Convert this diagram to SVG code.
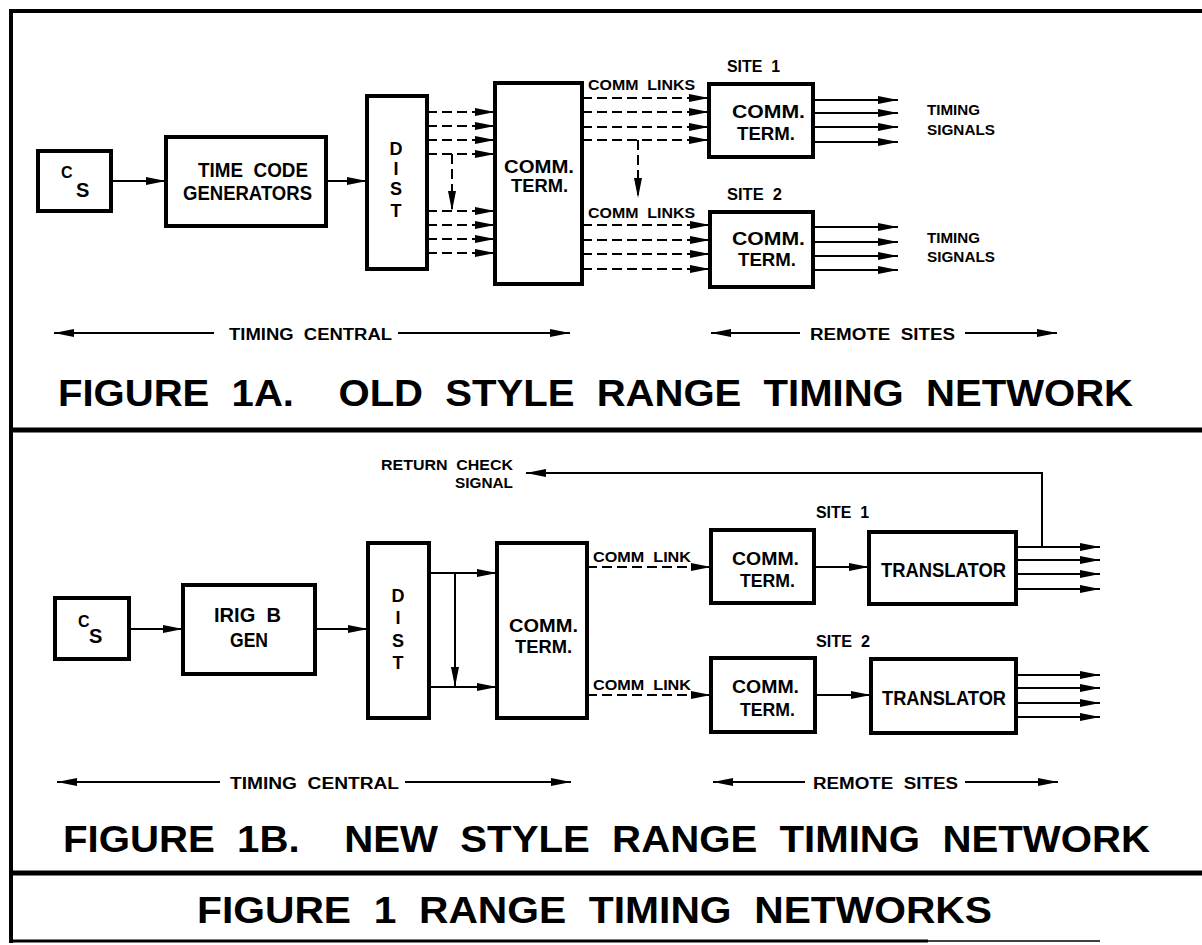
<svg xmlns="http://www.w3.org/2000/svg" width="1202" height="945" viewBox="0 0 1202 945">
<style>
.bg{fill:#fff}
.frame{stroke:#000;stroke-width:4;fill:none}
.box{fill:#fff;stroke:#000;stroke-width:4}
.ln{stroke:#000;stroke-width:2;fill:none}
.ah{marker-end:url(#arr)}
.dash{stroke-dasharray:10 5}
.t{font-family:"Liberation Sans",Arial,sans-serif;font-weight:bold;fill:#000;white-space:pre}
.s14{font-size:14px}
.s16{font-size:16px}
.s18{font-size:18px}
.s19{font-size:19px}
.s20{font-size:20px}
.title{font-family:"Liberation Sans",Arial,sans-serif;font-weight:bold;font-size:36px;fill:#000;white-space:pre}
.m{text-anchor:middle}
</style>
<defs>
<marker id="arr" viewBox="-22 -5 24 10" refX="0" refY="0" markerWidth="24" markerHeight="10" markerUnits="userSpaceOnUse" orient="auto">
<path d="M-20,-4 L0,0 L-20,4 Z" fill="#000"/>
</marker>
</defs>
<rect class="bg" x="0" y="0" width="1202" height="945"/>
<g id="frame">
<line class="frame" x1="11" y1="11" x2="1202" y2="11"/>
<line class="frame" x1="11" y1="9" x2="11" y2="943"/>
<line class="frame" x1="11" y1="430" x2="1202" y2="430" style="stroke-width:5"/>
<line class="frame" x1="11" y1="873" x2="1202" y2="873" style="stroke-width:5"/>
<line class="frame" x1="11" y1="941" x2="928" y2="941" style="stroke-width:3"/>
<line class="frame" x1="928" y1="941" x2="1100" y2="941" style="stroke-width:1.5"/>
</g>

<g id="connectors">
<line class="ln ah" x1="111" y1="181" x2="166" y2="181"/>
<line class="ln ah" x1="326" y1="181" x2="367" y2="181"/>
<line class="ln dash ah" x1="427" y1="112" x2="495" y2="112"/>
<line class="ln dash ah" x1="427" y1="126" x2="495" y2="126"/>
<line class="ln dash ah" x1="427" y1="140" x2="495" y2="140"/>
<line class="ln dash ah" x1="427" y1="154" x2="495" y2="154"/>
<line class="ln dash ah" x1="427" y1="211" x2="495" y2="211"/>
<line class="ln dash ah" x1="427" y1="225" x2="495" y2="225"/>
<line class="ln dash ah" x1="427" y1="239" x2="495" y2="239"/>
<line class="ln dash ah" x1="427" y1="253" x2="495" y2="253"/>
<line class="ln dash ah" x1="452" y1="154" x2="452" y2="211"/>
<line class="ln dash ah" x1="582" y1="98" x2="709" y2="98"/>
<line class="ln dash ah" x1="582" y1="112" x2="709" y2="112"/>
<line class="ln dash ah" x1="582" y1="127" x2="709" y2="127"/>
<line class="ln dash ah" x1="582" y1="140" x2="709" y2="140"/>
<line class="ln dash ah" x1="582" y1="225" x2="710" y2="225"/>
<line class="ln dash ah" x1="582" y1="240" x2="710" y2="240"/>
<line class="ln dash ah" x1="582" y1="254" x2="710" y2="254"/>
<line class="ln dash ah" x1="582" y1="269" x2="710" y2="269"/>
<line class="ln dash ah" x1="638" y1="140" x2="638" y2="198"/>
<line class="ln ah" x1="813" y1="100" x2="898" y2="100"/>
<line class="ln ah" x1="813" y1="113" x2="898" y2="113"/>
<line class="ln ah" x1="813" y1="127" x2="898" y2="127"/>
<line class="ln ah" x1="813" y1="142" x2="898" y2="142"/>
<line class="ln ah" x1="813" y1="227" x2="898" y2="227"/>
<line class="ln ah" x1="813" y1="242" x2="898" y2="242"/>
<line class="ln ah" x1="813" y1="256" x2="898" y2="256"/>
<line class="ln ah" x1="813" y1="270" x2="898" y2="270"/>
<line class="ln ah" x1="214" y1="333" x2="54" y2="333"/>
<line class="ln ah" x1="398" y1="333" x2="570" y2="333"/>
<line class="ln ah" x1="800" y1="333" x2="711" y2="333"/>
<line class="ln ah" x1="965" y1="333" x2="1057" y2="333"/>
<line class="ln ah" x1="129" y1="629" x2="183" y2="629"/>
<line class="ln ah" x1="315" y1="629" x2="368" y2="629"/>
<line class="ln ah" x1="429" y1="573" x2="497" y2="573"/>
<line class="ln ah" x1="429" y1="687" x2="497" y2="687"/>
<line class="ln ah" x1="455" y1="573" x2="455" y2="687"/>
<line class="ln dash ah" x1="587" y1="567" x2="711" y2="567"/>
<line class="ln dash ah" x1="587" y1="695" x2="711" y2="695"/>
<line class="ln ah" x1="814" y1="567" x2="869" y2="567"/>
<line class="ln ah" x1="815" y1="695" x2="871" y2="695"/>
<line class="ln ah" x1="1016" y1="547" x2="1100" y2="547"/>
<line class="ln ah" x1="1016" y1="560" x2="1100" y2="560"/>
<line class="ln ah" x1="1016" y1="574" x2="1100" y2="574"/>
<line class="ln ah" x1="1016" y1="589" x2="1100" y2="589"/>
<line class="ln ah" x1="1016" y1="675" x2="1100" y2="675"/>
<line class="ln ah" x1="1016" y1="688" x2="1100" y2="688"/>
<line class="ln ah" x1="1016" y1="703" x2="1100" y2="703"/>
<line class="ln ah" x1="1016" y1="717" x2="1100" y2="717"/>
<polyline class="ln ah" points="1042,547 1042,473 526,473"/>
<line class="ln ah" x1="220" y1="782" x2="57" y2="782"/>
<line class="ln ah" x1="405" y1="782" x2="571" y2="782"/>
<line class="ln ah" x1="805" y1="782" x2="713" y2="782"/>
<line class="ln ah" x1="965" y1="782" x2="1058" y2="782"/>
</g>

<g id="a_cs">
<rect class="box" x="38" y="151" width="73" height="60"/>
<text class="t" x="61" y="178" style="font-size:16px">C</text>
<text class="t s20" x="76" y="197">S</text>
</g>
<g id="a_tcg">
<rect class="box" x="166" y="137" width="160" height="89"/>
<text class="t s20" x="198" y="177" textLength="110" lengthAdjust="spacingAndGlyphs">TIME  CODE</text>
<text class="t s20" x="183" y="200" textLength="129" lengthAdjust="spacingAndGlyphs">GENERATORS</text>
</g>
<g id="a_dist">
<rect class="box" x="367" y="96" width="60" height="173"/>
<text class="t s18 m" x="396" y="155">D</text>
<text class="t s18 m" x="396" y="175">I</text>
<text class="t s18 m" x="396" y="195">S</text>
<text class="t s18 m" x="396" y="217">T</text>
</g>
<g id="a_comm">
<rect class="box" x="495" y="83" width="87" height="201"/>
<text class="t s19" x="504" y="173" textLength="70" lengthAdjust="spacingAndGlyphs">COMM.</text>
<text class="t s19" x="511" y="192" textLength="57" lengthAdjust="spacingAndGlyphs">TERM.</text>
</g>
<g id="a_site1">
<text class="t s16" x="727" y="72" textLength="53" lengthAdjust="spacingAndGlyphs">SITE  1</text>
<rect class="box" x="709" y="84" width="104" height="73"/>
<text class="t s19" x="732" y="118" textLength="73" lengthAdjust="spacingAndGlyphs">COMM.</text>
<text class="t s19" x="737" y="140" textLength="58" lengthAdjust="spacingAndGlyphs">TERM.</text>
</g>
<g id="a_site2">
<text class="t s16" x="727" y="200" textLength="55" lengthAdjust="spacingAndGlyphs">SITE  2</text>
<rect class="box" x="710" y="212" width="103" height="75"/>
<text class="t s19" x="732" y="245" textLength="73" lengthAdjust="spacingAndGlyphs">COMM.</text>
<text class="t s19" x="738" y="266" textLength="58" lengthAdjust="spacingAndGlyphs">TERM.</text>
</g>
<g id="a_labels">
<text class="t s14" x="588" y="90" textLength="107" lengthAdjust="spacingAndGlyphs">COMM  LINKS</text>
<text class="t s14" x="588" y="218" textLength="107" lengthAdjust="spacingAndGlyphs">COMM  LINKS</text>
<text class="t s14" x="927" y="115" textLength="53" lengthAdjust="spacingAndGlyphs">TIMING</text>
<text class="t s14" x="927" y="135" textLength="68" lengthAdjust="spacingAndGlyphs">SIGNALS</text>
<text class="t s14" x="927" y="243" textLength="53" lengthAdjust="spacingAndGlyphs">TIMING</text>
<text class="t s14" x="927" y="262" textLength="68" lengthAdjust="spacingAndGlyphs">SIGNALS</text>
<text class="t s16" x="229" y="340" textLength="163" lengthAdjust="spacingAndGlyphs">TIMING  CENTRAL</text>
<text class="t s16" x="810" y="340" textLength="145" lengthAdjust="spacingAndGlyphs">REMOTE  SITES</text>
<text class="title" x="58" y="406" textLength="1075" lengthAdjust="spacingAndGlyphs">FIGURE  1A.    OLD  STYLE  RANGE  TIMING  NETWORK</text>
</g>

<g id="b_cs">
<rect class="box" x="55" y="598" width="74" height="61"/>
<text class="t" x="78" y="627" style="font-size:16px">C</text>
<text class="t s20" x="89" y="643">S</text>
</g>
<g id="b_irig">
<rect class="box" x="183" y="585" width="132" height="89"/>
<text class="t s20" x="214" y="622" textLength="67" lengthAdjust="spacingAndGlyphs">IRIG  B</text>
<text class="t s20" x="230" y="647" textLength="38" lengthAdjust="spacingAndGlyphs">GEN</text>
</g>
<g id="b_dist">
<rect class="box" x="368" y="543" width="61" height="175"/>
<text class="t s18 m" x="398" y="602">D</text>
<text class="t s18 m" x="398" y="624">I</text>
<text class="t s18 m" x="398" y="647">S</text>
<text class="t s18 m" x="398" y="669">T</text>
</g>
<g id="b_comm">
<rect class="box" x="497" y="543" width="90" height="175"/>
<text class="t s19" x="509" y="632" textLength="69" lengthAdjust="spacingAndGlyphs">COMM.</text>
<text class="t s19" x="515" y="653" textLength="57" lengthAdjust="spacingAndGlyphs">TERM.</text>
</g>
<g id="b_site1">
<text class="t s16" x="816" y="518" textLength="53" lengthAdjust="spacingAndGlyphs">SITE  1</text>
<rect class="box" x="711" y="530" width="103" height="73"/>
<text class="t s19" x="732" y="565" textLength="67" lengthAdjust="spacingAndGlyphs">COMM.</text>
<text class="t s19" x="740" y="587" textLength="55" lengthAdjust="spacingAndGlyphs">TERM.</text>
</g>
<g id="b_trans1">
<rect class="box" x="869" y="532" width="147" height="72"/>
<text class="t s20" x="881" y="577" textLength="125" lengthAdjust="spacingAndGlyphs">TRANSLATOR</text>
</g>
<g id="b_site2">
<text class="t s16" x="816" y="647" textLength="54" lengthAdjust="spacingAndGlyphs">SITE  2</text>
<rect class="box" x="711" y="658" width="104" height="74"/>
<text class="t s19" x="732" y="693" textLength="67" lengthAdjust="spacingAndGlyphs">COMM.</text>
<text class="t s19" x="740" y="716" textLength="55" lengthAdjust="spacingAndGlyphs">TERM.</text>
</g>
<g id="b_trans2">
<rect class="box" x="871" y="659" width="145" height="74"/>
<text class="t s20" x="882" y="705" textLength="124" lengthAdjust="spacingAndGlyphs">TRANSLATOR</text>
</g>
<g id="b_labels">
<text class="t s14" x="381" y="470" textLength="132" lengthAdjust="spacingAndGlyphs">RETURN  CHECK</text>
<text class="t s14" x="455" y="488" textLength="58" lengthAdjust="spacingAndGlyphs">SIGNAL</text>
<text class="t s14" x="593" y="562" textLength="98" lengthAdjust="spacingAndGlyphs">COMM  LINK</text>
<text class="t s14" x="593" y="690" textLength="98" lengthAdjust="spacingAndGlyphs">COMM  LINK</text>
<text class="t s16" x="230" y="789" textLength="169" lengthAdjust="spacingAndGlyphs">TIMING  CENTRAL</text>
<text class="t s16" x="813" y="789" textLength="145" lengthAdjust="spacingAndGlyphs">REMOTE  SITES</text>
<text class="title" x="63" y="852" textLength="1087" lengthAdjust="spacingAndGlyphs">FIGURE  1B.    NEW  STYLE  RANGE  TIMING  NETWORK</text>
<text class="title" x="197" y="923" textLength="795" lengthAdjust="spacingAndGlyphs">FIGURE  1  RANGE  TIMING  NETWORKS</text>
</g>
</svg>
